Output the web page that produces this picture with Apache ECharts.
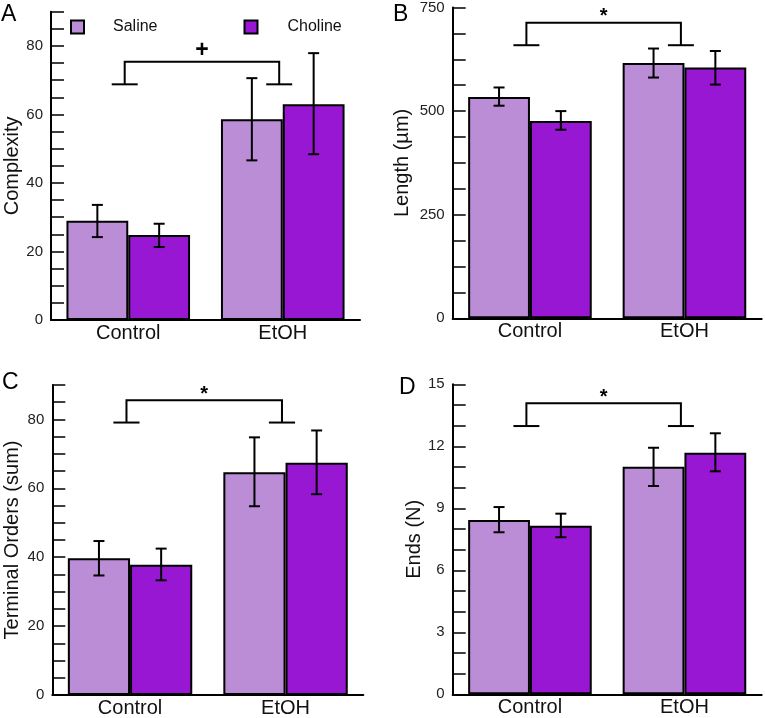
<!DOCTYPE html>
<html><head><meta charset="utf-8">
<script src="https://cdn.jsdelivr.net/npm/echarts@6/dist/echarts.min.js"></script>
<style>html,body{margin:0;padding:0;background:#fff}#c{width:765px;height:718px}</style>
</head><body><div id="c"></div>
<script>
// ---- data ----
const categories = ['Control', 'EtOH'];
const seriesNames = ['Saline', 'Choline'];
const panelLetters = ['A', 'B', 'C', 'D'];
const yAxisNames = ['Complexity', 'Length (µm)', 'Terminal Orders (sum)', 'Ends (N)'];

// Panel A: Complexity
const complexitySaline = [29.0, 58.6];
const complexityCholine = [24.8, 63.0];
const complexitySalineLow = [24.2, 46.6];
const complexitySalineHigh = [33.6, 70.6];
const complexityCholineLow = [21.3, 48.4];
const complexityCholineHigh = [28.1, 77.9];

// Panel B: Length (µm)
const lengthSaline = [534, 616];
const lengthCholine = [476, 605];
const lengthSalineLow = [513, 581];
const lengthSalineHigh = [557, 651];
const lengthCholineLow = [455, 564];
const lengthCholineHigh = [500, 645];

// Panel C: Terminal Orders (sum)
const terminalSaline = [39.7, 64.7];
const terminalCholine = [37.8, 67.4];
const terminalSalineLow = [34.7, 54.8];
const terminalSalineHigh = [44.7, 74.8];
const terminalCholineLow = [33.3, 58.3];
const terminalCholineHigh = [42.5, 76.8];

// Panel D: Ends (N)
const endsSaline = [8.43, 11.01];
const endsCholine = [8.16, 11.69];
const endsSalineLow = [7.84, 10.08];
const endsSalineHigh = [9.06, 11.93];
const endsCholineLow = [7.60, 10.79];
const endsCholineHigh = [8.74, 12.63];

// axis scales: [max, tick step, label step]
const yMax = [90, 750, 90, 15];
const yTickStep = [5, 62.5, 5, 1];
const yLabelStep = [20, 250, 20, 3];

// significance brackets: [top, leg bottom], symbol
const bracketTop = [75.4, 713, 85.6, 14.08];
const bracketLeg = [68.8, 659, 79.1, 12.98];
const bracketMark = ['+', '*', '*', '*'];

// ---- styling / layout ----
const colors = ['#BC8DD7', '#9717D3'];
const FONT = 'Liberation Sans, Arial, sans-serif';
const grids = [
  {left: 51, top: 11.7, width: 309, height: 308.3},
  {left: 452.7, top: 7.3, width: 309, height: 311},
  {left: 52.3, top: 385, width: 311, height: 311},
  {left: 452.7, top: 384.3, width: 309, height: 310}
];
const nameGaps = [29, 40, 29.5, 23];
const letterPos = [[1, 3], [393, 3], [2, 371], [399, 376]];

const salineVals = [complexitySaline, lengthSaline, terminalSaline, endsSaline];
const cholineVals = [complexityCholine, lengthCholine, terminalCholine, endsCholine];
const salineLow = [complexitySalineLow, lengthSalineLow, terminalSalineLow, endsSalineLow];
const salineHigh = [complexitySalineHigh, lengthSalineHigh, terminalSalineHigh, endsSalineHigh];
const cholineLow = [complexityCholineLow, lengthCholineLow, terminalCholineLow, endsCholineLow];
const cholineHigh = [complexityCholineHigh, lengthCholineHigh, terminalCholineHigh, endsCholineHigh];

function errRender(offsetFrac) {
  return function (params, api) {
    const c = api.value(0);
    const lo = api.coord([c, api.value(1)]);
    const hi = api.coord([c, api.value(2)]);
    const bw = api.size([1, 0])[0];
    const x = lo[0] + offsetFrac * bw;
    const cap = 5.5;
    const st = {stroke: '#000', lineWidth: 2};
    return {type: 'group', children: [
      {type: 'line', shape: {x1: x, y1: lo[1], x2: x, y2: hi[1]}, style: st},
      {type: 'line', shape: {x1: x - cap, y1: lo[1], x2: x + cap, y2: lo[1]}, style: st},
      {type: 'line', shape: {x1: x - cap, y1: hi[1], x2: x + cap, y2: hi[1]}, style: st}
    ]};
  };
}
function bracketRender(mark) {
  return function (params, api) {
    const bw = api.size([1, 0])[0];
    const off = -0.023 * bw, foot = 0.084 * bw;
    const a = api.coord([api.value(0), api.value(2)]);
    const b = api.coord([api.value(1), api.value(2)]);
    const la = api.coord([api.value(0), api.value(3)]);
    const x1 = a[0] + off, x2 = b[0] + off, yT = a[1], yL = la[1];
    const st = {stroke: '#000', lineWidth: 2};
    const isPlus = mark === '+';
    return {type: 'group', children: [
      {type: 'polyline', shape: {points: [[x1, yL], [x1, yT], [x2, yT], [x2, yL]]}, style: {stroke: '#000', lineWidth: 2, fill: null}},
      {type: 'line', shape: {x1: x1 - foot, y1: yL, x2: x1 + foot, y2: yL}, style: st},
      {type: 'line', shape: {x1: x2 - foot, y1: yL, x2: x2 + foot, y2: yL}, style: st},
      {type: 'text', style: {text: mark, x: (x1 + x2) / 2, y: yT - (isPlus ? 11 : 6), textAlign: 'center', textVerticalAlign: 'middle',
        font: 'bold ' + (isPlus ? 23 : 20) + 'px ' + FONT, fill: '#000'}}
    ]};
  };
}

const xAxes = [], yAxes = [], series = [], titles = [];
for (let p = 0; p < 4; p++) {
  xAxes.push({
    type: 'category', gridIndex: p, data: categories,
    axisLine: {lineStyle: {color: '#000', width: 2}},
    axisTick: {inside: true, length: 13, lineStyle: {color: '#000', width: 2}},
    axisLabel: {color: '#111', fontSize: 20, fontFamily: FONT, margin: 3}
  });
  const step = yLabelStep[p];
  yAxes.push({
    type: 'value', gridIndex: p, min: 0, max: yMax[p], interval: yTickStep[p],
    name: yAxisNames[p], nameLocation: 'middle', nameGap: nameGaps[p], nameRotate: 90,
    nameTextStyle: {fontSize: 20, color: '#111', fontFamily: FONT},
    splitLine: {show: false},
    axisLine: {show: true, lineStyle: {color: '#000', width: 2}},
    axisTick: {show: true, inside: true, length: 13, lineStyle: {color: '#000', width: 1.5}},
    axisLabel: {color: '#222', fontSize: 15, fontFamily: FONT, margin: 8,
      formatter: v => (Math.abs(v / step - Math.round(v / step)) < 1e-6 ? String(v) : '')}
  });
  titles.push({text: panelLetters[p], left: letterPos[p][0], top: letterPos[p][1], padding: 0,
    textStyle: {fontSize: 23, fontWeight: 'normal', color: '#000', fontFamily: FONT}});
  const vals = [salineVals[p], cholineVals[p]];
  for (let s = 0; s < 2; s++) {
    series.push({
      name: seriesNames[s], type: 'bar', xAxisIndex: p, yAxisIndex: p,
      data: vals[s], barGap: '0%', barCategoryGap: '20%',
      itemStyle: {color: colors[s], borderColor: '#000', borderWidth: 2},
      emphasis: {disabled: true}
    });
  }
  const lows = [salineLow[p], cholineLow[p]], highs = [salineHigh[p], cholineHigh[p]];
  for (let s = 0; s < 2; s++) {
    series.push({
      type: 'custom', xAxisIndex: p, yAxisIndex: p, z: 5,
      renderItem: errRender(s === 0 ? -0.2 : 0.2),
      encode: {x: 0, y: [1, 2]},
      data: categories.map((c, i) => [i, lows[s][i], highs[s][i]])
    });
  }
  series.push({
    type: 'custom', xAxisIndex: p, yAxisIndex: p, z: 5, clip: false,
    renderItem: bracketRender(bracketMark[p]),
    encode: {x: [0, 1], y: [2, 3]},
    data: [[0, 1, bracketTop[p], bracketLeg[p]]]
  });
}

const legendCommon = {
  orient: 'horizontal', top: 14, itemWidth: 13, itemHeight: 13, selectedMode: true,
  icon: 'rect',
  formatter: n => '{t|' + n + '}'
};
const option = {
  animation: false,
  backgroundColor: '#fff',
  title: titles,
  legend: [
    Object.assign({}, legendCommon, {left: 65, data: ['Saline'],
      textStyle: {fontSize: 16, color: '#111', fontFamily: FONT, rich: {t: {fontSize: 16, fontFamily: FONT, padding: [0, 0, 0, 24]}}}}),
    Object.assign({}, legendCommon, {left: 238.5, data: ['Choline'],
      textStyle: {fontSize: 16, color: '#111', fontFamily: FONT, rich: {t: {fontSize: 16, fontFamily: FONT, padding: [0, 0, 0, 25]}}}})
  ],
  grid: grids,
  xAxis: xAxes,
  yAxis: yAxes,
  series: series
};
const chart = echarts.init(document.getElementById('c'), null, {renderer: 'canvas'});
chart.setOption(option);
</script>
</body></html>
